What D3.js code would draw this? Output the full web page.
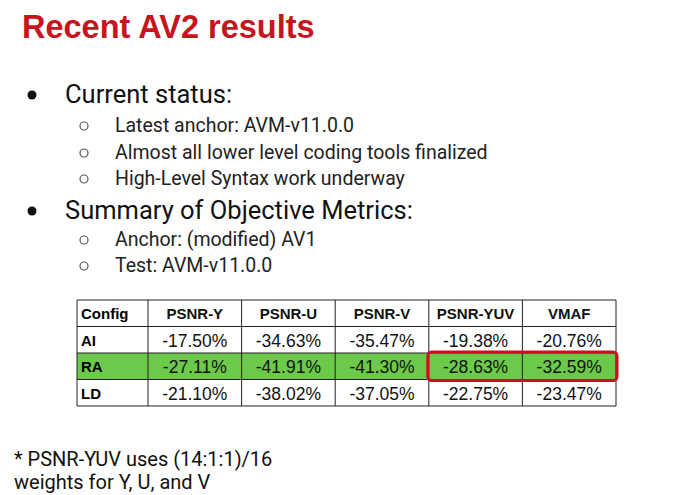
<!DOCTYPE html>
<html>
<head>
<meta charset="UTF-8" />
<script src="https://d3js.org/d3.v7.min.js"></script>
<style>
  body { margin: 0; background: #fff; }
  svg { font-family: Roboto, "Liberation Sans", sans-serif; }
</style>
</head>
<body>
<svg id="slide" width="700" height="495"></svg>
<script>
  const configs = ["AI", "RA", "LD"];
  const metrics = ["PSNR-Y", "PSNR-U", "PSNR-V", "PSNR-YUV", "VMAF"];
  const values = {
    AI: ["-17.50%", "-34.63%", "-35.47%", "-19.38%", "-20.76%"],
    RA: ["-27.11%", "-41.91%", "-41.30%", "-28.63%", "-32.59%"],
    LD: ["-21.10%", "-38.02%", "-37.05%", "-22.75%", "-23.47%"]
  };
  const highlightRow = "RA";
  const boxed = ["PSNR-YUV", "VMAF"];

  const svg = d3.select("#slide");

  svg.append("text").attr("x", 22).attr("y", 38)
    .attr("fill", "#c8141e").attr("font-size", 32.5).attr("font-weight", "bold")
    .attr("font-family", "Liberation Sans, Arial, sans-serif")
    .text("Recent AV2 results");

  const bullets = [
    { lvl: 0, y: 103, t: "Current status:" },
    { lvl: 1, y: 132, t: "Latest anchor: AVM-v11.0.0" },
    { lvl: 1, y: 159, t: "Almost all lower level coding tools finalized" },
    { lvl: 1, y: 185, t: "High-Level Syntax work underway" },
    { lvl: 0, y: 219, t: "Summary of Objective Metrics:" },
    { lvl: 1, y: 246, t: "Anchor: (modified) AV1" },
    { lvl: 1, y: 272, t: "Test: AVM-v11.0.0" }
  ];
  bullets.forEach(b => {
    if (b.lvl === 0) {
      svg.append("circle").attr("cx", 32).attr("cy", b.y - 8).attr("r", 4.5).attr("fill", "#111");
      svg.append("text").attr("x", 65).attr("y", b.y).attr("font-size", 25.5).attr("fill", "#111").text(b.t);
    } else {
      svg.append("circle").attr("cx", 84).attr("cy", b.y - 6).attr("r", 4)
        .attr("fill", "none").attr("stroke", "#555").attr("stroke-width", 1.2);
      svg.append("text").attr("x", 115).attr("y", b.y).attr("font-size", 19.5).attr("fill", "#222").text(b.t);
    }
  });

  // table
  const left = 77, cfgW = 71, right = 616;
  const x = d3.scaleBand().domain(metrics).range([left + cfgW, right]);
  const y = d3.scaleBand().domain(["header", ...configs]).range([300, 406]);
  const g = svg.append("g");

  g.append("rect").attr("x", left).attr("y", y(highlightRow))
    .attr("width", right - left).attr("height", y.bandwidth()).attr("fill", "#6cc94a");

  y.domain().forEach(r => {
    const cy = y(r) + y.bandwidth() / 2 + 6;
    const hdr = r === "header";
    g.append("text").attr("x", left + 4).attr("y", cy)
      .attr("font-size", 15).attr("font-weight", "bold")
      .attr("font-family", "Liberation Sans, Arial, sans-serif")
      .text(hdr ? "Config" : r);
    metrics.forEach((m, i) => {
      g.append("text").attr("x", x(m) + x.bandwidth() / 2).attr("y", cy + (hdr ? 0 : 1))
        .attr("text-anchor", "middle")
        .attr("font-family", "Liberation Sans, Arial, sans-serif")
        .attr("font-size", hdr ? 15 : 17.5).attr("font-weight", hdr ? "bold" : "normal")
        .attr("fill", "#111")
        .text(hdr ? m : values[r][i]);
    });
  });

  const hLines = [...y.domain().map(r => y(r)), y.range()[1]];
  hLines.forEach(v => g.append("line").attr("x1", left).attr("x2", right)
    .attr("y1", v).attr("y2", v).attr("stroke", "#222").attr("stroke-width", 1));
  const vLines = [left, ...metrics.map(m => x(m)), right];
  vLines.forEach(v => g.append("line").attr("x1", v).attr("x2", v)
    .attr("y1", y.range()[0]).attr("y2", y.range()[1]).attr("stroke", "#222").attr("stroke-width", 1));

  const bx0 = x(boxed[0]), bx1 = x(boxed[boxed.length - 1]) + x.bandwidth();
  g.append("rect").attr("x", bx0 - 1).attr("y", y(highlightRow) - 1)
    .attr("width", bx1 - bx0 + 2).attr("height", y.bandwidth() + 2)
    .attr("rx", 4).attr("fill", "none").attr("stroke", "#cc1020").attr("stroke-width", 3);

  svg.append("text").attr("x", 14).attr("y", 466).attr("font-size", 20).attr("fill", "#111")
    .text("* PSNR-YUV uses (14:1:1)/16");
  svg.append("text").attr("x", 14).attr("y", 489).attr("font-size", 20).attr("fill", "#111")
    .text("weights for Y, U, and V");
</script>
</body>
</html>
